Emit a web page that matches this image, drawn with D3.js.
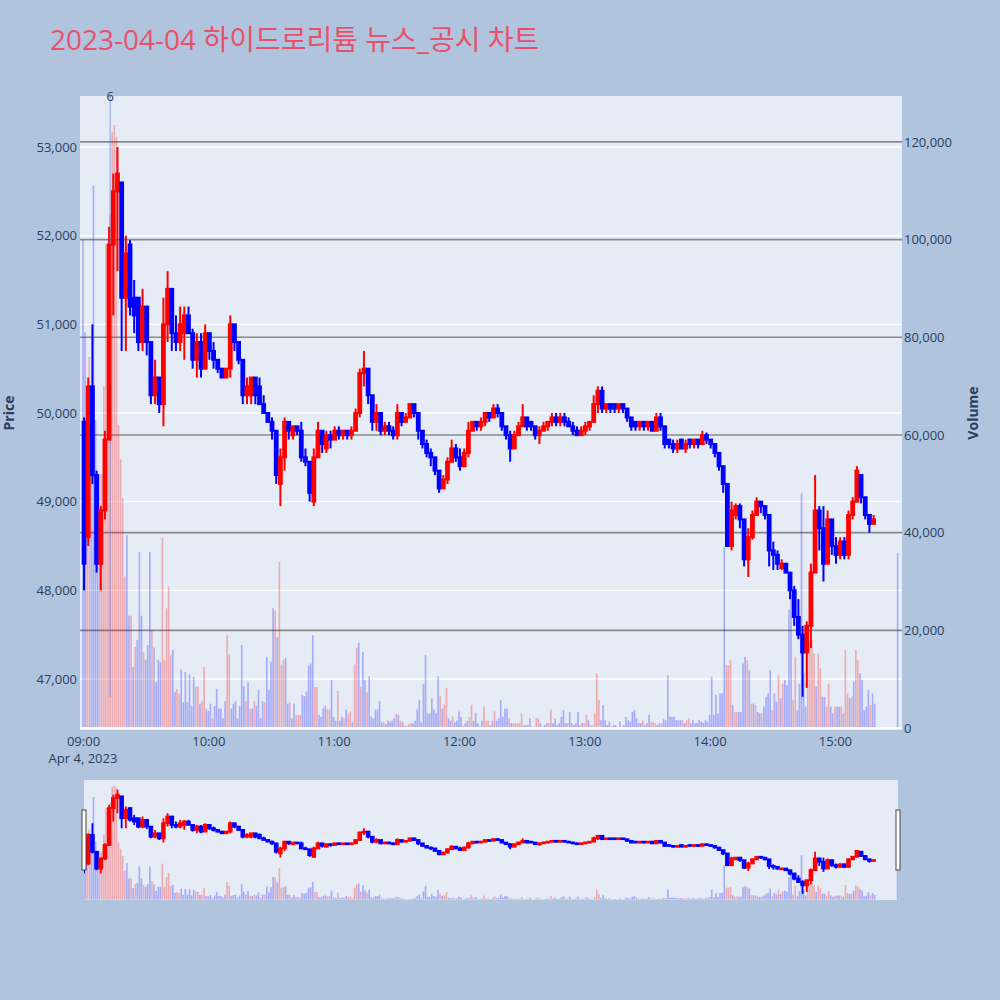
<!DOCTYPE html>
<html>
<head>
<meta charset="utf-8">
<script src="https://cdn.jsdelivr.net/npm/d3@7"></script>
<style>
  body { margin: 0; background: #b0c4de; }
  svg text { font-family: "Open Sans", "Noto Sans CJK KR", sans-serif; }
</style>
</head>
<body>
<svg id="chart" width="1000" height="1000"></svg>
<script>
// ---- data -------------------------------------------------------------
const chartTitle = "2023-04-04 하이드로리튬 뉴스_공시 차트";
const sessionDay = [2023, 3, 4];          // Apr 4, 2023
const candleMinutes = 2;                   // each candle = 2 minutes from 09:00

const opens = [
  49900,48600,50300,49300,48300,48900,49700,51900,52500,52600, 51300,51900,51300,51300,50800,51200,50800,50200,50400,50100,
  51000,51400,50900,50800,50900,51100,50900,50600,50800,50500, 50900,50700,50600,50500,50400,50500,51000,50800,50600,50200,
  50200,50400,50300,50100,50000,49900,49800,49200,49500,49900, 49750,49850,49800,49500,49450,49000,49500,49800,49600,49750,
  49700,49800,49750,49800,49750,49800,50000,50450,50500,50200, 49900,50000,49800,49850,49800,49750,50000,49900,49950,50100,
  50000,49800,49650,49550,49500,49350,49150,49250,49450,49600, 49500,49400,49550,49800,49900,49850,49900,50000,49950,50050,
  50000,49850,49750,49600,49750,49850,49950,49900,49850,49750, 49800,49850,49900,49950,49900,49950,49900,49850,49800,49750,
  49800,49850,49900,50100,50250,50050,50100,50100,50050,50100, 50050,49950,49900,49850,49900,49850,49900,49800,49950,49850,
  49700,49650,49600,49700,49600,49700,49650,49700,49650,49750, 49700,49650,49550,49400,49200,48500,48850,48950,48800,48350,
  48600,48850,49000,48950,48850,48450,48400,48250,48300,48200, 48000,47700,47500,47300,47600,48200,48900,48700,48300,48800,
  48500,48400,48550,48400,48850,49000,49300,49050,48850,48750
];
const highs = [
  49950,50400,51000,49350,48950,49800,52100,52700,53000,52600, 52000,51950,51500,51300,51400,51200,50800,50600,50400,51300,
  51600,51400,51100,51200,51200,51200,50950,50900,50900,51000, 50900,50800,50600,50500,50500,51100,51000,50800,50600,50400,
  50400,50400,50400,50200,50000,49950,49800,49600,49950,49900, 49850,49850,49900,49600,49450,49600,49900,49800,49800,49800,
  49850,49850,49800,49800,49850,50050,50500,50700,50500,50200, 50100,50000,49900,49900,49850,50100,50000,50000,50100,50100,
  50000,49800,49700,49600,49500,49350,49300,49500,49700,49650, 49600,49600,49900,49900,49900,49950,50000,50000,50100,50100,
  50000,49850,49800,49800,49900,50100,49950,49900,49850,49850, 49900,49900,50000,50000,50000,50000,49950,49900,49850,49850,
  49900,49900,50200,50300,50300,50100,50100,50100,50100,50100, 50050,49950,49900,49900,49900,49900,49900,50000,50000,49850,
  49700,49700,49700,49700,49700,49700,49700,49700,49800,49780, 49700,49650,49550,49400,49200,49000,48980,48980,48800,48700,
  48900,49050,49000,48950,48850,48550,48450,48350,48300,48200, 48050,47900,47600,47650,48300,49300,48950,48950,48900,48800,
  48600,48600,48600,48900,49050,49400,49300,49050,48850,48850
];
const lows = [
  48000,48500,49200,48200,48000,48800,49700,51100,51600,50700, 50700,51100,50900,50700,50700,50650,50100,50100,50000,49850,
  50800,50700,50700,50700,50600,50900,50500,50400,50400,50500, 50600,50500,50450,50400,50400,50400,50700,50550,50100,50100,
  50100,50100,50100,50000,49900,49700,49200,48950,49350,49700, 49700,49750,49450,49400,49000,48950,49500,49550,49550,49600,
  49700,49700,49700,49700,49700,49800,49950,50300,50100,49800, 49800,49750,49750,49750,49700,49700,49850,49900,49950,49950,
  49700,49600,49500,49400,49300,49100,49150,49200,49450,49450, 49350,49400,49500,49800,49800,49800,49850,49900,49950,49950,
  49800,49700,49450,49600,49750,49850,49800,49800,49700,49650, 49800,49800,49850,49850,49850,49850,49850,49750,49750,49750,
  49750,49800,49900,50000,50000,50000,50000,50000,50000,50000, 49900,49800,49800,49800,49800,49800,49800,49800,49800,49600,
  49600,49550,49550,49600,49550,49600,49600,49600,49650,49650, 49600,49500,49350,49100,48500,48450,48800,48700,48270,48150,
  48570,48850,48870,48800,48270,48230,48230,48230,48200,47900, 47600,47450,46800,46900,47350,48200,48450,48100,48300,48400,
  48300,48350,48350,48350,48800,49000,48980,48800,48650,48750
];
const closes = [
  48300,50300,49300,48300,48900,49700,51900,52500,52700,51300, 51800,51200,51100,50800,51200,50800,50200,50400,50100,51000,
  51400,50900,50800,51000,51100,50900,50600,50800,50500,50900, 50700,50600,50500,50400,50500,51000,50800,50600,50200,50300,
  50400,50200,50100,50000,49900,49800,49300,49500,49900,49800, 49850,49800,49500,49450,49100,49500,49800,49650,49750,49700,
  49800,49750,49800,49750,49800,50000,50450,50500,50200,49900, 50000,49800,49850,49800,49750,50000,49900,49950,50100,50000,
  49800,49650,49550,49500,49350,49150,49250,49450,49600,49500, 49400,49550,49800,49900,49850,49900,50000,49950,50050,50000,
  49850,49750,49600,49750,49850,49950,49850,49850,49750,49800, 49850,49900,49950,49900,49950,49900,49850,49800,49750,49800,
  49850,49900,50100,50250,50050,50100,50050,50050,50100,50050, 49950,49850,49850,49900,49850,49900,49800,49950,49850,49650,
  49650,49600,49650,49600,49650,49650,49700,49650,49750,49700, 49650,49550,49400,49200,48500,48900,48950,48800,48350,48600,
  48850,49000,48950,48850,48450,48400,48300,48300,48200,48000, 47700,47500,47300,47600,48200,48900,48700,48300,48800,48500,
  48400,48550,48400,48850,49000,49350,49050,48850,48750,48800
];

// volume per minute from 09:00, in thousands of shares
const volumeK = [
  100,81,45,76,58,111,63,40,52,52, 70,99,99,105,122,123.5,121,62,55,47,
  31,39.5,23,23,12.5,16.6,18,36,23,15.5, 14,17,36,20,16.5,9.4,14,13.5,39,14,
  24.5,29,15,16,7.4,8,7,12,5.3,11.5, 5.3,11,4.5,10.5,8.5,8.5,5,5.5,12.5,4,
  3.5,5,2,4.5,8,4,4,2,5.5,19, 15,4,5,5.5,2,4.5,17,8.5,5.5,9.4,
  4,4,5.5,4.5,7.8,2,5.5,5.3,14.5,7.8, 13.6,24.5,24,18.6,34,13,14,14.3,5,5.3,
  2,5,2.7,2.7,2.7,6.8,6.5,7.5,12.8,13.2, 19,8.4,8.4,2.7,2.3,4,4.5,3.8,3.8,9.8,
  2.3,1.5,7.6,1.5,2.3,2,3.8,3,3.4,1.2, 13,16.4,17.5,8.4,15.5,9.8,7.3,10.6,2.3,2,
  3.8,3.8,5.5,1.2,1.2,0.8,1.5,1.2,1.5,2, 3,2.7,1.5,1.2,0.5,0.5,0.8,1,1,1.5,
  3.8,5.8,1.2,9,15,3,3,6,3.8,3, 10.6,6.5,4,4.8,8.2,2,1.5,2.3,1.2,1.5,
  3.4,2.3,0.5,1,1.5,2.3,4.8,1.5,3,1, 0.5,1.5,4.4,1.5,1.5,0.5,1.5,3.4,1.5,2,
  5.7,2.3,4,4,2,1,1,1,1,1, 3,0.6,0.6,0.6,2,0.3,0.3,2,2,1,
  0.3,0.6,1,1,3.8,1,2,0.6,1,2.3, 3.7,1,1,3.3,1,0.6,1,3.3,0.6,1,
  1,2.7,1.6,0.6,0.6,3,11.2,5.7,1.6,4.7, 1.6,0.6,1.3,0.3,0.6,0.6,0.1,1.3,0.3,0.6,
  2.3,1.6,1.3,3.3,3.7,2,1,1,1.6,0.6, 1,2.7,1.3,1.3,1,0.6,1,1,1.8,1.6,
  10.8,2.3,2.3,2.3,1.6,1.6,1.6,1.6,1,1.6, 2,1,1.6,1,1,1.6,1.3,1,1.6,1.3,
  2.7,10.5,2.7,6.8,3,7.1,7.1,37.1,
  12.9,12.9,13.9,4.7,3.3,3.3,3.3,3.3,13.2,14.6,13.9,11.9,5,5,4.7,3.3,
  3,3,4.4,6.4,7.1,11.9,3.7,7.1,5.4,10.8,6.1,9.1,9.8,8.8,24.2,28.9,5.7,14.6,3.7,9.1,
  48,
  11.2,4.4,16,17.7,18,15.3,8.5,15.3,12.2,6.4,6.4,4.4,9.1,4.4,3,4.4,4.4,
  4.4,
  4.4,3,16,7.1,6.1,6.4,9.5,16,13.9,11.2,9.8,3.7,4.4,7.8,4.7,7.1,5
];
// direction of each minute: u = up (red), d = down (blue)
const volSides = [
  "dduudddduuuuuuuuuuuu",
  "uddududddu","dddudddduu","uuudduuddd","dddduuduud","dduddddddu","udddddddud",
  "ududdddudd","dduduuuddu","dduuuddddd","duudddduud","ddudduduud","uududduddd",
  "dddduddddd","ududduuudd","dddddddddd","duduuddudd","ddudduuddd","uduuuddudd",
  "dddduduuuu","uddddduuud","ddduuddddd","ddudddddud","uuduuuuudd",
  "dddddddddd","ddddddddud","dduuuddudd","dddddddudu","uddddddddd",
  "dddddddd","uuuduuddddududud","dudddduddududddduudd","d",
  "dduuuuduudduuddud","d","uduududuudddddudd"
].join("");

// closing auction print at 15:30
const closingMinute = 390;
const closingPrice = 48800;
const closingVolume = 35800;

// news marker: 6 items at 09:13
const newsMinute = 13;
const newsCount = 6;

const priceTicks = [47000, 48000, 49000, 50000, 51000, 52000, 53000];
const volumeTicks = [0, 20000, 40000, 60000, 80000, 100000, 120000];
const timeTickHours = [9, 10, 11, 12, 13, 14, 15];

// ---- setup ------------------------------------------------------------
const UP = "#ff0000", DOWN = "#0000ff";
const plot = {left: 80, right: 902, top: 96, bottom: 730};
const slider = {left: 84, right: 898, top: 780, bottom: 900};

const t0 = new Date(sessionDay[0], sessionDay[1], sessionDay[2], 9, 0);
const atMin = m => new Date(t0.getTime() + m * 60000);

const x = d3.scaleTime().domain([atMin(-1.44), atMin(392.1)]).range([plot.left, plot.right]);
const yP = d3.scaleLinear().domain([46425, 53575]).range([plot.bottom, plot.top]);
const yV = d3.scaleLinear().domain([-400, 129400]).range([plot.bottom, plot.top]);
const yPs = yP.copy().range([slider.bottom, slider.top]);
const yVs = yV.copy().range([slider.bottom, slider.top]);

// build candle and volume records
let candles = opens.map((o, i) => ({t: atMin(i * candleMinutes + 0.5), o, h: highs[i], l: lows[i], c: closes[i]}));
candles.push({t: atMin(closingMinute), o: closingPrice, h: closingPrice, l: closingPrice, c: closingPrice});
let vols = volumeK.map((v, m) => ({t: atMin(m), v: v * 1000, up: volSides[m] === "u"}));
vols.push({t: atMin(closingMinute), v: closingVolume, up: false});

const svg = d3.select("#chart");
svg.append("rect").attr("width", 1000).attr("height", 1000).attr("fill", "#b0c4de");

const defs = svg.append("defs");
defs.append("clipPath").attr("id", "clipMain").append("rect")
  .attr("x", plot.left).attr("y", plot.top).attr("width", plot.right - plot.left).attr("height", plot.bottom - plot.top);
defs.append("clipPath").attr("id", "clipSlider").append("rect")
  .attr("x", slider.left).attr("y", slider.top).attr("width", slider.right - slider.left).attr("height", slider.bottom - slider.top);

// plot background
svg.append("rect").attr("x", plot.left).attr("y", plot.top)
  .attr("width", plot.right - plot.left).attr("height", plot.bottom - plot.top).attr("fill", "#e5ecf6");

// gridlines
const grid = svg.append("g");
grid.selectAll(".pgrid").data(priceTicks).join("line")
  .attr("x1", plot.left).attr("x2", plot.right)
  .attr("y1", d => yP(d)).attr("y2", d => yP(d))
  .attr("stroke", "#ffffff").attr("stroke-width", 1.3);
grid.selectAll(".vgrid").data(volumeTicks.filter(d => d > 0)).join("line")
  .attr("x1", plot.left).attr("x2", plot.right)
  .attr("y1", d => yV(d)).attr("y2", d => yV(d))
  .attr("stroke", "#8a8a8a").attr("stroke-width", 1.6);

function drawVolume(g, ys) {
  const bw = 1.67;
  g.selectAll("rect").data(vols).join("rect")
    .attr("x", d => x(d.t) - bw / 2).attr("width", bw)
    .attr("y", d => ys(d.v)).attr("height", d => Math.max(0, ys(0) - ys(d.v)))
    .attr("fill", d => d.up ? UP : DOWN).attr("fill-opacity", 0.27);
}

function drawCandles(g, ys, lw) {
  const bodyW = 2.8;
  const cg = g.selectAll("g").data(candles).join("g");
  cg.append("line")
    .attr("x1", d => x(d.t)).attr("x2", d => x(d.t))
    .attr("y1", d => ys(d.h)).attr("y2", d => ys(d.l))
    .attr("stroke", d => d.c > d.o ? UP : DOWN).attr("stroke-width", lw);
  cg.append("rect")
    .attr("x", d => x(d.t) - bodyW / 2).attr("width", bodyW)
    .attr("y", d => ys(Math.max(d.o, d.c)))
    .attr("height", d => Math.abs(ys(d.o) - ys(d.c)))
    .attr("fill", d => d.c > d.o ? UP : DOWN)
    .attr("stroke", d => d.c > d.o ? UP : DOWN).attr("stroke-width", lw);
}

// main traces
const main = svg.append("g").attr("clip-path", "url(#clipMain)");
drawVolume(main.append("g"), yV);
// volume zero line
main.append("line").attr("x1", plot.left).attr("x2", plot.right)
  .attr("y1", yV(0)).attr("y2", yV(0)).attr("stroke", "#ffffff").attr("stroke-width", 2);
// news marker line
main.append("line")
  .attr("x1", x(atMin(newsMinute))).attr("x2", x(atMin(newsMinute)))
  .attr("y1", plot.top).attr("y2", 697)
  .attr("stroke", "#6f7fe0").attr("stroke-opacity", 0.6).attr("stroke-width", 1.2);
drawCandles(main.append("g"), yP, 2);

svg.append("text").attr("x", x(atMin(newsMinute))).attr("y", 101)
  .attr("text-anchor", "middle").attr("font-size", 13).attr("fill", "#2a3f5f").text(newsCount);

// axes
const fmt = d3.format(",");
const axL = svg.append("g").attr("transform", `translate(${plot.left},0)`)
  .call(d3.axisLeft(yP).tickValues(priceTicks).tickFormat(fmt).tickSize(0).tickPadding(3));
const axR = svg.append("g").attr("transform", `translate(${plot.right},0)`)
  .call(d3.axisRight(yV).tickValues(volumeTicks).tickFormat(fmt).tickSize(0).tickPadding(2));
const axB = svg.append("g").attr("transform", `translate(0,${plot.bottom})`)
  .call(d3.axisBottom(x).tickValues(timeTickHours.map(h => atMin((h - 9) * 60)))
    .tickFormat(d3.timeFormat("%H:%M")).tickSize(0).tickPadding(7));
[axL, axR, axB].forEach(a => {
  a.select(".domain").remove();
  a.selectAll("text").attr("font-family", "'Open Sans', sans-serif").attr("font-size", 13).attr("fill", "#2a3f5f");
});
svg.append("text").attr("x", x(t0)).attr("y", 763).attr("text-anchor", "middle")
  .attr("font-size", 13).attr("fill", "#2a3f5f").text("Apr 4, 2023");

// axis titles
svg.append("text").attr("transform", `translate(14,413) rotate(-90)`)
  .attr("text-anchor", "middle").attr("font-size", 14).attr("font-weight", "bold")
  .attr("fill", "#2a3f5f").text("Price");
svg.append("text").attr("transform", `translate(978,413) rotate(-90)`)
  .attr("text-anchor", "middle").attr("font-size", 14).attr("font-weight", "bold")
  .attr("fill", "#2a3f5f").text("Volume");

// title
svg.append("text").attr("x", 50).attr("y", 50)
  .attr("font-size", 28).attr("fill", "#ea506a").text(chartTitle);

// range slider
svg.append("rect").attr("x", slider.left).attr("y", slider.top)
  .attr("width", slider.right - slider.left).attr("height", slider.bottom - slider.top).attr("fill", "#e5ecf6");
const mini = svg.append("g").attr("clip-path", "url(#clipSlider)");
drawVolume(mini.append("g"), yVs);
drawCandles(mini.append("g"), yPs, 1.8);
[slider.left - 2, slider.right - 2].forEach(hx => {
  svg.append("rect").attr("x", hx).attr("y", 810).attr("width", 4).attr("height", 60)
    .attr("fill", "#ffffff").attr("stroke", "#444").attr("stroke-width", 1);
});
</script>
</body>
</html>
